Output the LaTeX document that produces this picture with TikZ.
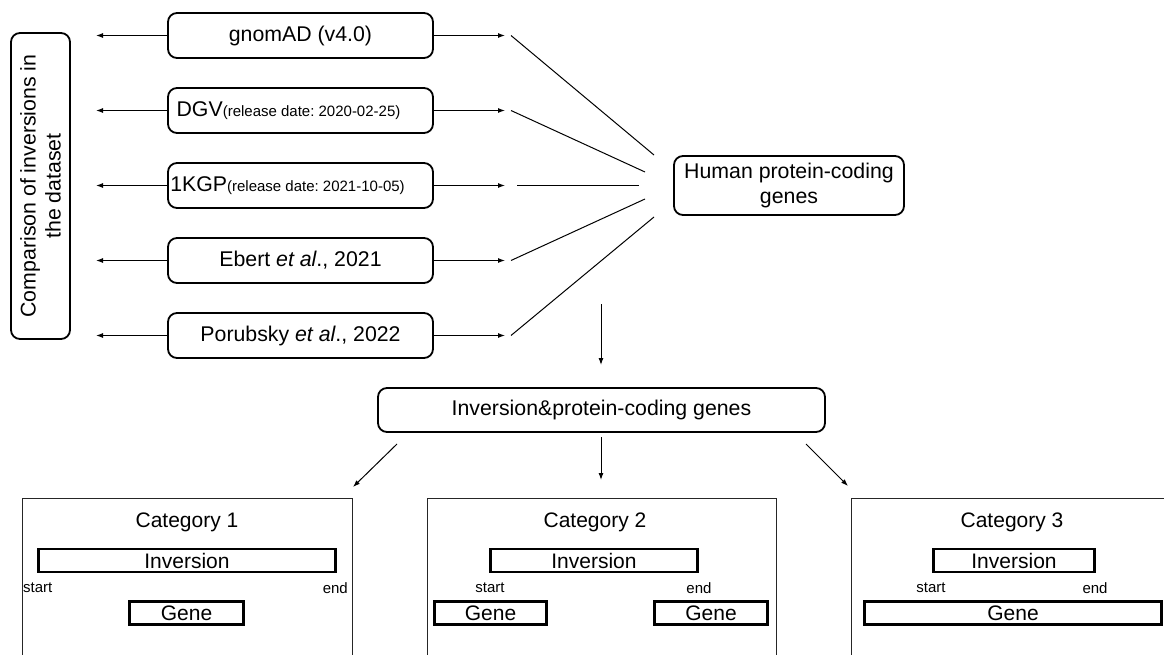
\documentclass[tikz,border=0pt]{standalone}
\usepackage{fontspec}
\setmainfont{Liberation Sans}
\usepackage{tikz}
\usetikzlibrary{positioning,arrows.meta,calc}
\frenchspacing

\begin{document}
\begin{tikzpicture}[
    x=1pt, y=-1pt,
    box/.style={rectangle, draw, rounded corners=9pt, line width=1.8pt, minimum height=45pt, align=center, inner sep=2pt, font=\fontsize{21.3}{25}\selectfont},
    srcbox/.style={box, minimum width=265pt},
    small/.style={font=\fontsize{15}{18}\selectfont},
    catframe/.style={rectangle, draw=black!85, line width=1pt, anchor=north west, minimum height=220pt},
    bar/.style={rectangle, draw, line width=2.6pt, inner sep=0pt, minimum height=23pt, font=\fontsize{21}{25}\selectfont},
    title/.style={font=\fontsize{21}{25}\selectfont},
    arrow/.style={-{Latex[length=7pt,width=5pt]}, line width=1pt},
    link/.style={line width=1pt}
]
    \useasboundingbox (0,0) rectangle (1164,655);
    \clip (0,0) rectangle (1164,655);

    % Comparison
    \node[box, rotate=90, minimum width=306pt, minimum height=59pt] (cmp) at (40.5,186) {Comparison of inversions in\\the dataset};

    % Data sources
    \node[srcbox] (gnomad) at (300.5,35.5) {gnomAD (v4.0)};
    \node[srcbox] (dgv) at (300.5,110.5) {DGV{\fontsize{15}{18}\selectfont(release date: 2020-02-25)}\kern24pt};
    \node[srcbox] (kgp) at (300.5,185.5) {1KGP{\fontsize{15}{18}\selectfont(release date: 2021-10-05)}\kern26pt};
    \node[srcbox] (ebert) at (300.5,260.5) {Ebert \textit{et al}., 2021};
    \node[srcbox] (porubsky) at (300.5,335.5) {Porubsky \textit{et al}., 2022};

    \foreach \src/\yy in {gnomad/35.5, dgv/110.5, kgp/185.5, ebert/260.5, porubsky/335.5} {
        \coordinate (\src_l) at (96,\yy);
        \coordinate (\src_r) at (505,\yy);
        \coordinate (\src_s) at (511,\yy);
        \draw[arrow] (\src.west) -- (\src_l);
        \draw[arrow] (\src.east) -- (\src_r);
    }
    \coordinate (kgp_s) at (517,185.5);

    % Genes
    \node[box, minimum width=230pt, minimum height=59pt] (human) at (789,185.5) {Human protein-coding\\genes};
    \coordinate (gnomad_e) at (654,155);
    \coordinate (dgv_e) at (645,172);
    \coordinate (kgp_e) at (639,185.5);
    \coordinate (ebert_e) at (645,199);
    \coordinate (porubsky_e) at (654,217);
    \foreach \src in {gnomad, dgv, kgp, ebert, porubsky}
        \draw[link] (\src_s) -- (\src_e);

    \node[box, minimum width=447pt, minimum height=44pt] (overlap) at (601.5,410) {Inversion\&protein-coding genes};
    \coordinate (down_s) at (601,304);
    \coordinate (down_e) at (601,365);
    \draw[arrow] (down_s) -- (down_e);

    % Categories
    \node[catframe, minimum width=330pt] (cat1) at (22,498) {};
    \node[catframe, minimum width=349pt] (cat2) at (427,498) {};
    \node[catframe, minimum width=349pt] (cat3) at (851,498) {};

    \coordinate (c1_s) at (397,444);
    \coordinate (c1_e) at (353,487);
    \coordinate (c2_s) at (601,437);
    \coordinate (c2_e) at (601,480);
    \coordinate (c3_s) at (806,444);
    \coordinate (c3_e) at (848,486);
    \draw[arrow] (c1_s) -- (c1_e);
    \draw[arrow] (c2_s) -- (c2_e);
    \draw[arrow] (c3_s) -- (c3_e);

    % Category 1
    \node[title] (t1) at (187,522) {Category 1};
    \node[bar, minimum width=297pt] (inv1) at (187,560.5) {Inversion};
    \node[small, anchor=west, inner sep=0pt] (s1) at (23,588) {start};
    \node[small, anchor=east, inner sep=0pt] (e1) at (348,588) {end};
    \node[bar, minimum width=114pt] (g1) at (186.5,613) {Gene};

    % Category 2
    \node[title] (t2) at (595,522) {Category 2};
    \node[bar, minimum width=207pt] (inv2) at (594,560.5) {Inversion};
    \node[small, inner sep=0pt] (s2) at (490,588) {start};
    \node[small, inner sep=0pt] (e2) at (699,588) {end};
    \node[bar, minimum width=112pt] (g2a) at (490.5,613) {Gene};
    \node[bar, minimum width=113pt] (g2b) at (711,613) {Gene};

    % Category 3
    \node[title] (t3) at (1012,522) {Category 3};
    \node[bar, minimum width=161pt] (inv3) at (1014,560.5) {Inversion};
    \node[small, inner sep=0pt] (s3) at (931,588) {start};
    \node[small, inner sep=0pt] (e3) at (1095,588) {end};
    \node[bar, minimum width=297pt] (g3) at (1013,613) {Gene};
\end{tikzpicture}
\end{document}
